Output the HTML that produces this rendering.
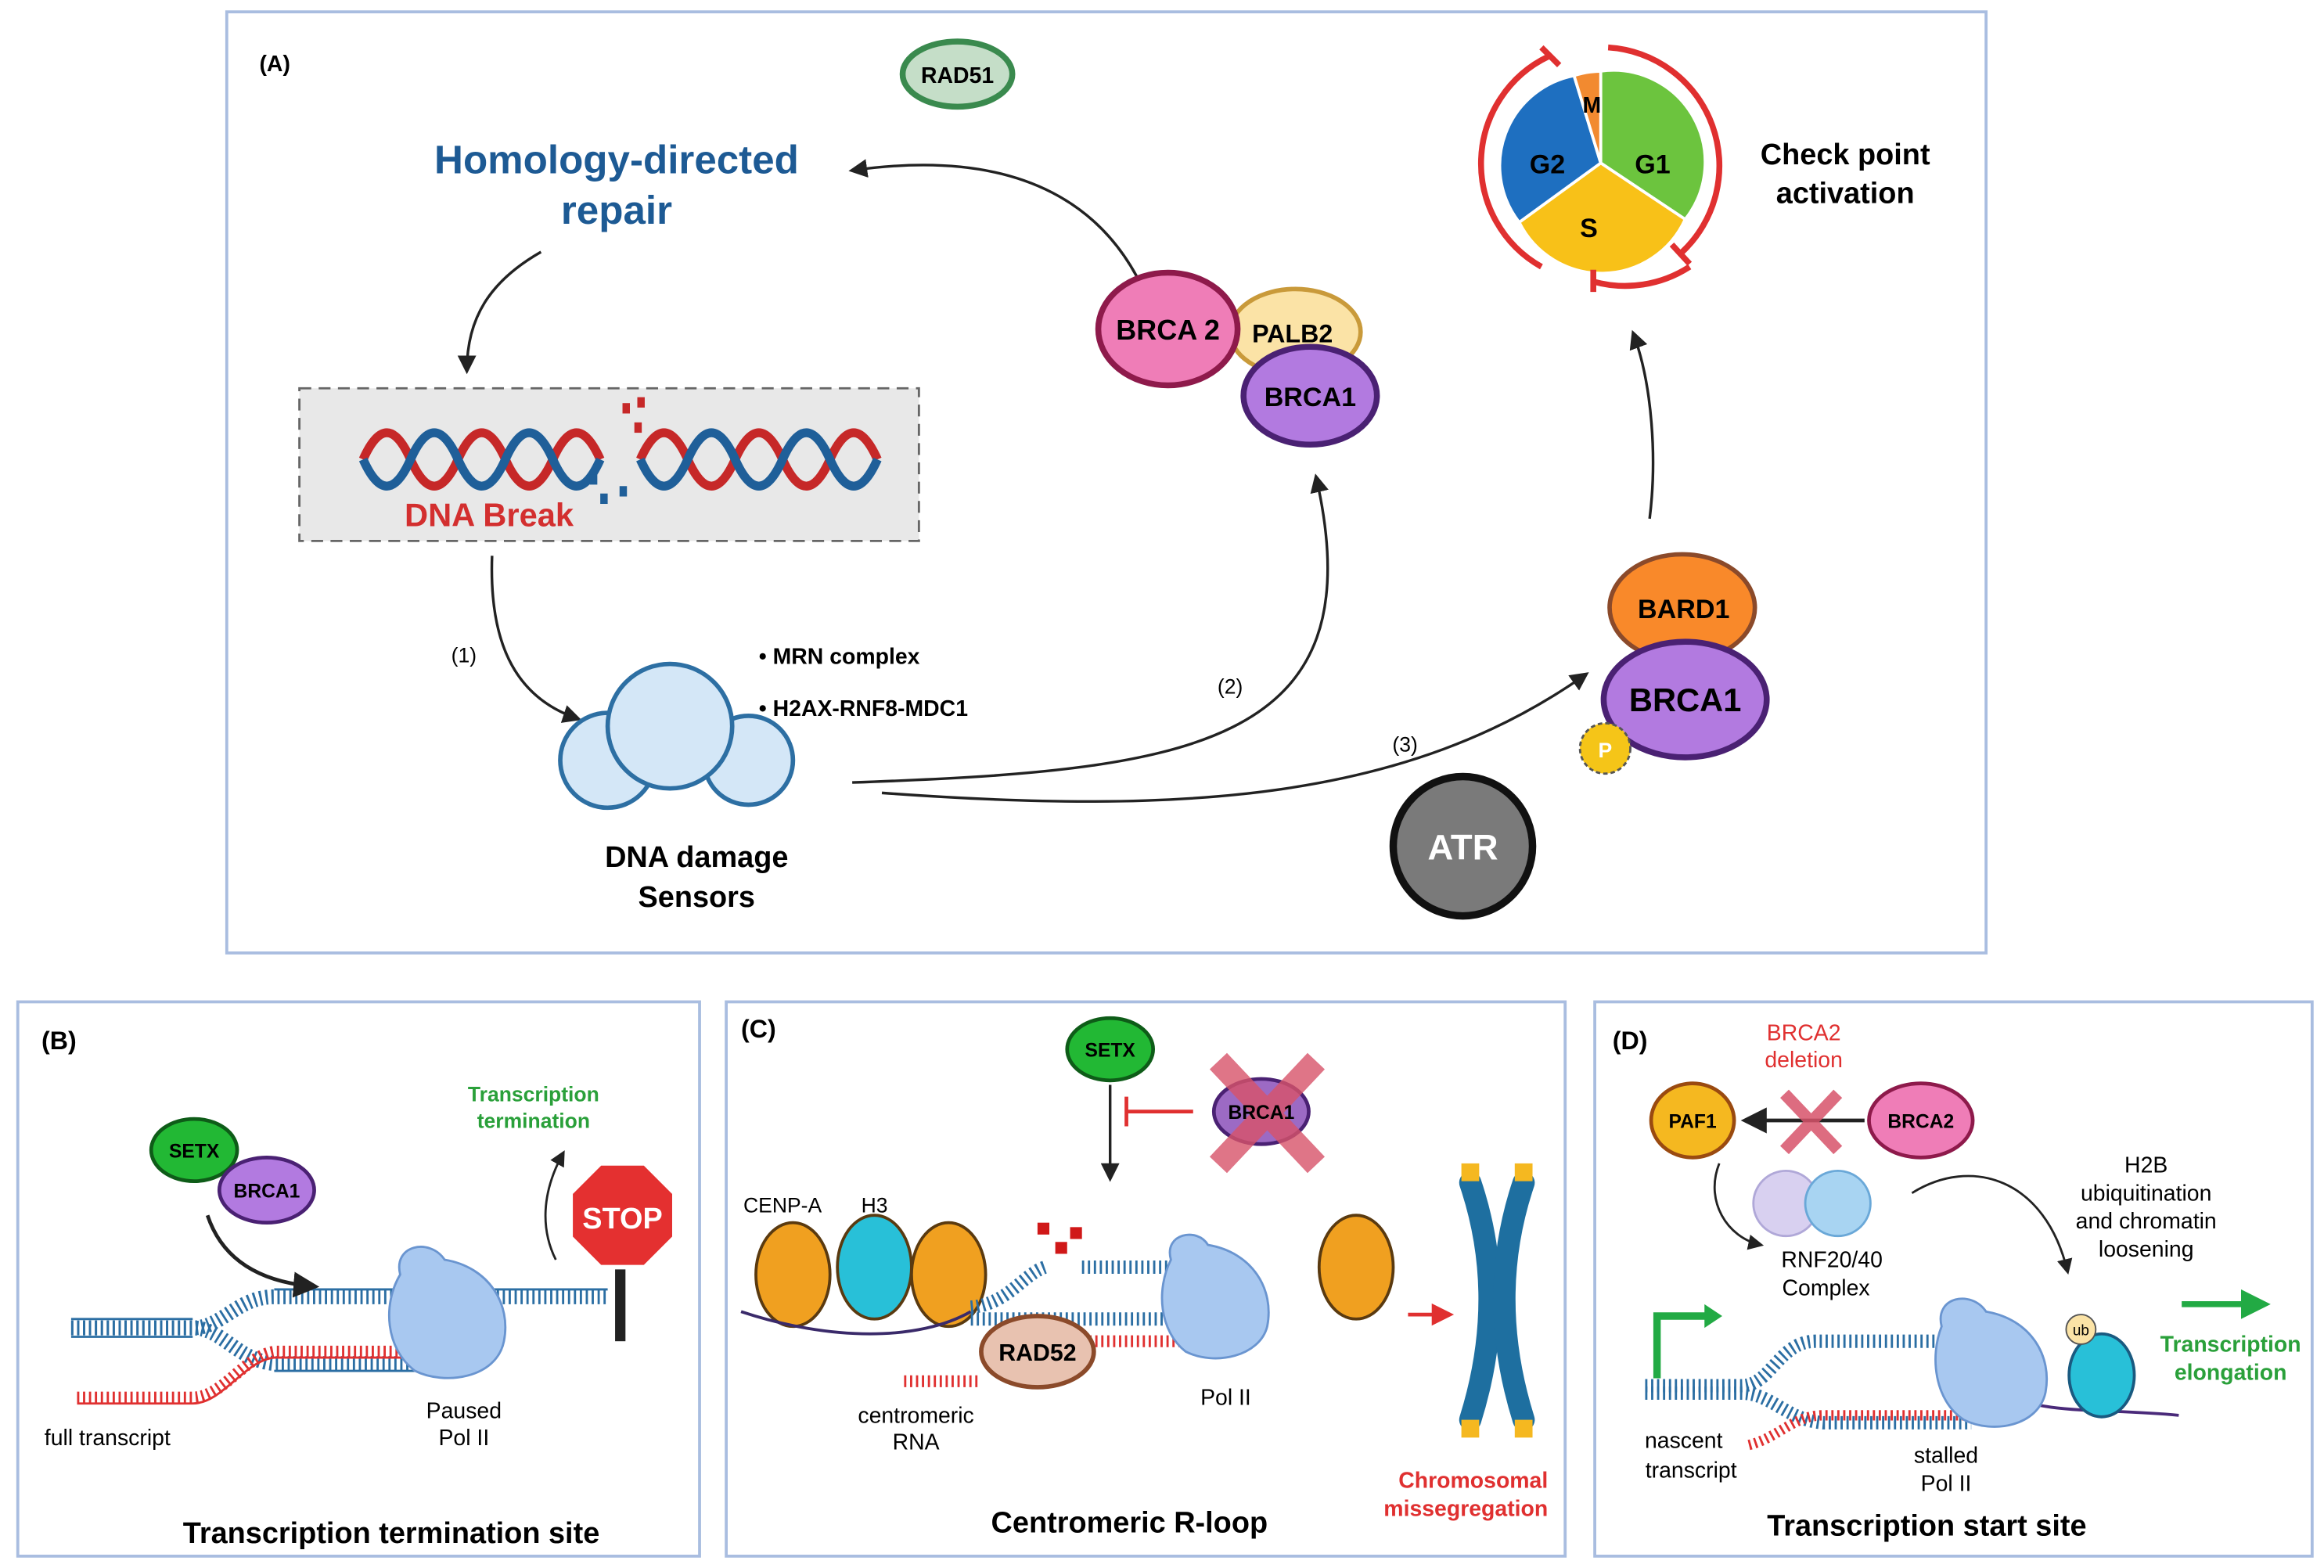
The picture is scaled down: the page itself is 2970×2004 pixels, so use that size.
<!DOCTYPE html>
<html><head><meta charset="utf-8"><style>
html,body{margin:0;padding:0;background:#fff}
svg{display:block}
text{font-family:"Liberation Sans",sans-serif}
.b{font-weight:bold}
</style></head><body>
<svg width="2970" height="2004" viewBox="0 0 1568 1058" preserveAspectRatio="none" xmlns="http://www.w3.org/2000/svg">
<defs>
<marker id="ah" viewBox="0 0 10 10" refX="8" refY="5" markerWidth="7" markerHeight="7" orient="auto"><path d="M0,0 L10,5 L0,10 z" fill="#222"/></marker>
<marker id="ahr" viewBox="0 0 10 10" refX="8" refY="5" markerWidth="6" markerHeight="6" orient="auto"><path d="M0,0 L10,5 L0,10 z" fill="#e03030"/></marker>
<marker id="ahg" viewBox="0 0 10 10" refX="8" refY="5" markerWidth="5" markerHeight="5" orient="auto"><path d="M0,0 L10,5 L0,10 z" fill="#22aa44"/></marker>
</defs>
<rect width="1568" height="1058" fill="#fff"/>
<g fill="none" stroke="#a9bde0" stroke-width="2">
<rect x="153" y="8" width="1187" height="635"/>
<rect x="12" y="676" width="460" height="374"/>
<rect x="490" y="676" width="566" height="374"/>
<rect x="1076" y="676" width="484" height="374"/>
</g>
<text x="175" y="48" font-size="15" class="b">(A)</text>
<text x="28" y="708" font-size="17" class="b">(B)</text>
<text x="500" y="700" font-size="17" class="b">(C)</text>
<text x="1088" y="708" font-size="17" class="b">(D)</text>

<ellipse cx="646" cy="50" rx="37" ry="22" fill="#c5dec8" stroke="#3a8a4e" stroke-width="4"/>
<text x="646" y="56" font-size="15" class="b" text-anchor="middle">RAD51</text>
<text x="416" y="117" font-size="27" class="b" fill="#1d5a94" text-anchor="middle">Homology-directed</text>
<text x="416" y="151" font-size="27" class="b" fill="#1d5a94" text-anchor="middle">repair</text>

<g fill="none" stroke="#222" stroke-width="1.8">
<path d="M785,235 C760,130 680,100 575,115" marker-end="url(#ah)"/>
<path d="M365,170 C330,190 315,215 315,250" marker-end="url(#ah)"/>
<path d="M332,375 C330,430 345,470 390,485" marker-end="url(#ah)"/>
<path d="M575,528 C800,520 930,505 888,322" marker-end="url(#ah)"/>
<path d="M595,535 C800,550 950,540 1070,455" marker-end="url(#ah)"/>
<path d="M1113,350 C1118,310 1115,260 1102,225" marker-end="url(#ah)"/>
</g>
<text x="313" y="447" font-size="14" text-anchor="middle">(1)</text>
<text x="830" y="468" font-size="14" text-anchor="middle">(2)</text>
<text x="948" y="507" font-size="14" text-anchor="middle">(3)</text>

<rect x="202" y="262" width="418" height="103" fill="#e8e8e8" stroke="#666" stroke-width="1.5" stroke-dasharray="8 5"/>
<g fill="none" stroke-width="6">
<path d="M245,310 Q261,274 277,310 T309,310 T341,310 T373,310 T405,310" stroke="#c62828"/>
<path d="M245,310 Q261,346 277,310 T309,310 T341,310 T373,310 T405,310" stroke="#1f5f99"/>
<path d="M432,310 Q448,274 464,310 T496,310 T528,310 T560,310 T592,310" stroke="#c62828"/>
<path d="M432,310 Q448,346 464,310 T496,310 T528,310 T560,310 T592,310" stroke="#1f5f99"/>
</g>
<g fill="#c62828"><rect x="420" y="272" width="5" height="7"/><rect x="430" y="268" width="5" height="7"/><rect x="428" y="285" width="5" height="7"/></g>
<g fill="#1f5f99"><rect x="398" y="320" width="5" height="7"/><rect x="405" y="333" width="5" height="7"/><rect x="418" y="328" width="5" height="7"/></g>
<text x="330" y="355" font-size="22" class="b" fill="#d32f2f" text-anchor="middle">DNA Break</text>

<g fill="#d4e7f7" stroke="#2d6fa3" stroke-width="3">
<circle cx="410" cy="513" r="32"/><circle cx="505" cy="513" r="30"/><circle cx="452" cy="490" r="42"/>
</g>
<text x="470" y="585" font-size="20" class="b" text-anchor="middle">DNA damage</text>
<text x="470" y="612" font-size="20" class="b" text-anchor="middle">Sensors</text>
<text x="512" y="448" font-size="15" class="b">• MRN complex</text>
<text x="512" y="483" font-size="15" class="b">• H2AX-RNF8-MDC1</text>

<ellipse cx="874" cy="224" rx="44" ry="29" fill="#fbe3a6" stroke="#c99a3a" stroke-width="3"/>
<ellipse cx="788" cy="222" rx="47" ry="38" fill="#ef7db7" stroke="#8e1a4b" stroke-width="4"/>
<ellipse cx="884" cy="267" rx="45" ry="33" fill="#b27ae0" stroke="#4a2173" stroke-width="4"/>
<text x="788" y="229" font-size="19" class="b" text-anchor="middle">BRCA 2</text>
<text x="872" y="231" font-size="17" class="b" text-anchor="middle">PALB2</text>
<text x="884" y="274" font-size="18" class="b" text-anchor="middle">BRCA1</text>

<ellipse cx="1135" cy="410" rx="49" ry="36" fill="#f9892a" stroke="#8b4a2a" stroke-width="3"/>
<ellipse cx="1137" cy="472" rx="55" ry="39" fill="#b27ae0" stroke="#4a2173" stroke-width="4"/>
<text x="1136" y="417" font-size="18" class="b" text-anchor="middle">BARD1</text>
<text x="1137" y="480" font-size="22" class="b" text-anchor="middle">BRCA1</text>
<circle cx="1083" cy="505" r="17" fill="#f5c518" stroke="#555" stroke-width="1.5" stroke-dasharray="3 2"/>
<text x="1083" y="511" font-size="14" class="b" fill="#fff" text-anchor="middle">P</text>
<circle cx="987" cy="571" r="47" fill="#7a7a7a" stroke="#111" stroke-width="5"/>
<text x="987" y="580" font-size="24" class="b" fill="#fff" text-anchor="middle">ATR</text>

<g stroke="#fff" stroke-width="2">
<path d="M1080,110 L1080,48 A62,62 0 0 1 1137,148 Z" fill="#6cc43e"/>
<path d="M1080,110 L1137,148 A62,62 0 0 1 1025,150 Z" fill="#f8c118"/>
<path d="M1080,110 L1025,150 A62,62 0 0 1 1062,51 Z" fill="#1e6fc0"/>
<path d="M1080,110 L1062,51 A62,62 0 0 1 1080,48 Z" fill="#f28a30"/>
</g>
<text x="1074" y="76" font-size="15" class="b" text-anchor="middle">M</text>
<text x="1115" y="117" font-size="18" class="b" text-anchor="middle">G1</text>
<text x="1044" y="117" font-size="18" class="b" text-anchor="middle">G2</text>
<text x="1072" y="160" font-size="18" class="b" text-anchor="middle">S</text>
<g fill="none" stroke="#e03030" stroke-width="4">
<path d="M1045,38 A80,80 0 0 0 1040,180"/>
<path d="M1085,32 A80,80 0 0 1 1135,170"/>
<path d="M1140,180 A80,80 0 0 1 1075,190"/>
<path d="M1040,32 L1052,44 M1128,165 L1140,178 M1075,182 L1075,197"/>
</g>
<text x="1245" y="111" font-size="20" class="b" text-anchor="middle">Check point</text>
<text x="1245" y="137" font-size="20" class="b" text-anchor="middle">activation</text>

<!-- B -->
<g fill="none">
<path d="M48,896 L130,896 C150,896 160,875 185,875 L410,875" stroke="#2b6ea3" stroke-width="10" stroke-dasharray="1.5 2.5"/>
<path d="M48,896 L130,896 C150,896 160,918 185,920 L290,920" stroke="#2b6ea3" stroke-width="10" stroke-dasharray="1.5 2.5"/>
<path d="M185,870 L410,870 M48,890 L130,890 M48,902 L130,902 M185,925 L290,925" stroke="#2b6ea3" stroke-width="1.5"/>
<path d="M52,943 L130,943 C150,943 165,915 185,912 L290,912" stroke="#e03030" stroke-width="8" stroke-dasharray="1.5 2.5"/>
<path d="M52,947 L130,947 C150,947 165,918 185,916 L290,916" stroke="#e03030" stroke-width="1.5"/>
</g>
<path d="M270,860 C265,840 290,835 300,850 C330,855 345,880 340,905 C335,930 300,935 280,925 C260,910 258,880 270,860 Z" fill="#a8c8f0" stroke="#6a95d0" stroke-width="1.5"/>
<rect x="415" y="855" width="7" height="50" fill="#222"/>
<polygon points="405,785 435,785 455,805 455,835 435,855 405,855 385,835 385,805" fill="#e43030" stroke="#fff" stroke-width="3"/>
<text x="420" y="829" font-size="20" class="b" fill="#fff" text-anchor="middle">STOP</text>
<path d="M375,850 C365,830 365,805 380,778" fill="none" stroke="#222" stroke-width="1.5" marker-end="url(#ah)"/>
<text x="360" y="743" font-size="14" class="b" fill="#2aa03a" text-anchor="middle">Transcription</text>
<text x="360" y="761" font-size="14" class="b" fill="#2aa03a" text-anchor="middle">termination</text>
<ellipse cx="131" cy="776" rx="29" ry="21" fill="#22b834" stroke="#0e5c18" stroke-width="2.5"/>
<text x="131" y="781" font-size="13" class="b" text-anchor="middle">SETX</text>
<ellipse cx="180" cy="803" rx="32" ry="22" fill="#b27ae0" stroke="#4a2173" stroke-width="2.5"/>
<text x="180" y="808" font-size="13" class="b" text-anchor="middle">BRCA1</text>
<path d="M140,820 C150,850 175,865 212,868" fill="none" stroke="#222" stroke-width="2.5" marker-end="url(#ah)"/>
<text x="30" y="975" font-size="15">full transcript</text>
<text x="313" y="957" font-size="15" text-anchor="middle">Paused</text>
<text x="313" y="975" font-size="15" text-anchor="middle">Pol II</text>
<text x="264" y="1041" font-size="20" class="b" text-anchor="middle">Transcription termination site</text>

<!-- C -->
<ellipse cx="749" cy="708" rx="29" ry="21" fill="#22b834" stroke="#0e5c18" stroke-width="2.5"/>
<text x="749" y="713" font-size="13" class="b" text-anchor="middle">SETX</text>
<ellipse cx="851" cy="750" rx="32" ry="22" fill="#9c6ac4" stroke="#4a2173" stroke-width="2.5"/>
<g stroke="#d8536a" stroke-width="16" opacity="0.8"><path d="M822,716 L888,786 M888,716 L822,786"/></g>
<text x="851" y="755" font-size="13" class="b" text-anchor="middle">BRCA1</text>
<path d="M749,732 L749,795" stroke="#222" stroke-width="1.8" marker-end="url(#ah)"/>
<path d="M805,750 L760,750 M760,740 L760,760" stroke="#e03030" stroke-width="2.5" fill="none"/>
<text x="528" y="818" font-size="14" text-anchor="middle">CENP-A</text>
<text x="590" y="818" font-size="14" text-anchor="middle">H3</text>
<g stroke="#5a3a10" stroke-width="2">
<ellipse cx="535" cy="860" rx="25" ry="35" fill="#f0a020"/>
<ellipse cx="590" cy="855" rx="25" ry="35" fill="#28c0d8"/>
<ellipse cx="640" cy="860" rx="25" ry="35" fill="#f0a020"/>
<ellipse cx="915" cy="855" rx="25" ry="35" fill="#f0a020"/>
</g>
<path d="M500,885 C560,905 620,905 655,885" fill="none" stroke="#3a2a6a" stroke-width="2"/>
<g fill="none">
<path d="M655,882 C680,880 690,860 705,855 M730,855 L800,855" stroke="#2b6ea3" stroke-width="9" stroke-dasharray="1.5 2.5"/>
<path d="M655,890 L800,890" stroke="#2b6ea3" stroke-width="9" stroke-dasharray="1.5 2.5"/>
<path d="M610,932 L660,932 M735,905 L800,905" stroke="#e03030" stroke-width="8" stroke-dasharray="1.5 2.5"/>
</g>
<g fill="#d01818"><rect x="700" y="825" width="8" height="8"/><rect x="712" y="838" width="8" height="8"/><rect x="722" y="828" width="8" height="8"/></g>
<path d="M790,850 C785,832 808,828 815,840 C845,845 860,870 855,895 C850,915 820,922 800,912 C782,898 780,870 790,850 Z" fill="#a8c8f0" stroke="#6a95d0" stroke-width="1.5"/>
<ellipse cx="700" cy="912" rx="38" ry="24" fill="#e8c2b0" stroke="#8b4a2a" stroke-width="3"/>
<text x="700" y="918" font-size="16" class="b" text-anchor="middle">RAD52</text>
<text x="618" y="960" font-size="15" text-anchor="middle">centromeric</text>
<text x="618" y="978" font-size="15" text-anchor="middle">RNA</text>
<text x="827" y="948" font-size="15" text-anchor="middle">Pol II</text>
<path d="M950,887 L978,887" stroke="#e03030" stroke-width="2.5" marker-end="url(#ahr)"/>
<g fill="none" stroke="#1e6fa0" stroke-width="15" stroke-linecap="round">
<path d="M992,798 Q1018,875 992,958"/>
<path d="M1028,798 Q1002,875 1028,958"/>
</g>
<g fill="#f5b820"><rect x="986" y="785" width="12" height="12"/><rect x="1022" y="785" width="12" height="12"/><rect x="986" y="958" width="12" height="12"/><rect x="1022" y="958" width="12" height="12"/></g>
<text x="994" y="1004" font-size="15" class="b" fill="#e03030" text-anchor="middle">Chromosomal</text>
<text x="989" y="1023" font-size="15" class="b" fill="#e03030" text-anchor="middle">missegregation</text>
<text x="762" y="1034" font-size="20" class="b" text-anchor="middle">Centromeric R-loop</text>

<!-- D -->
<text x="1217" y="702" font-size="15" fill="#e03030" text-anchor="middle">BRCA2</text>
<text x="1217" y="720" font-size="15" fill="#e03030" text-anchor="middle">deletion</text>
<ellipse cx="1142" cy="756" rx="28" ry="25" fill="#f5b820" stroke="#9a4a10" stroke-width="2.5"/>
<text x="1142" y="761" font-size="13" class="b" text-anchor="middle">PAF1</text>
<ellipse cx="1296" cy="756" rx="35" ry="25" fill="#ef7db7" stroke="#8e1a4b" stroke-width="2.5"/>
<text x="1296" y="761" font-size="13" class="b" text-anchor="middle">BRCA2</text>
<path d="M1258,756 L1178,756" stroke="#222" stroke-width="2.5" marker-end="url(#ah)"/>
<g stroke="#d8536a" stroke-width="8" opacity="0.85"><path d="M1204,738 L1240,776 M1240,738 L1204,776"/></g>
<circle cx="1205" cy="812" r="22" fill="#d8d0f0" stroke="#b0a8d8" stroke-width="1.5"/>
<circle cx="1240" cy="812" r="22" fill="#a8d4f2" stroke="#6aa8d8" stroke-width="1.5"/>
<path d="M1160,785 C1150,810 1165,835 1188,840" fill="none" stroke="#222" stroke-width="1.5" marker-end="url(#ah)"/>
<path d="M1290,805 C1330,780 1380,795 1395,858" fill="none" stroke="#222" stroke-width="1.5" marker-end="url(#ah)"/>
<text x="1236" y="855" font-size="15" text-anchor="middle">RNF20/40</text>
<text x="1232" y="874" font-size="15" text-anchor="middle">Complex</text>
<text x="1448" y="791" font-size="15" text-anchor="middle">H2B</text>
<text x="1448" y="810" font-size="15" text-anchor="middle">ubiquitination</text>
<text x="1448" y="829" font-size="15" text-anchor="middle">and chromatin</text>
<text x="1448" y="848" font-size="15" text-anchor="middle">loosening</text>
<path d="M1118,930 L1118,888 L1152,888" fill="none" stroke="#22aa44" stroke-width="5"/>
<polygon points="1150,880 1162,888 1150,896" fill="#22aa44"/>
<g fill="none">
<path d="M1110,935 L1175,935 C1195,935 1200,905 1225,905 L1330,905" stroke="#2b6ea3" stroke-width="9" stroke-dasharray="1.5 2.5"/>
<path d="M1110,940 L1175,940 C1195,940 1205,958 1230,960 L1330,960" stroke="#2b6ea3" stroke-width="9" stroke-dasharray="1.5 2.5"/>
<path d="M1180,975 C1200,970 1210,955 1230,955 L1330,955" stroke="#e03030" stroke-width="7" stroke-dasharray="1.5 2.5"/>
<path d="M1350,940 C1380,955 1420,950 1470,955" stroke="#4a2a7a" stroke-width="2"/>
</g>
<path d="M1310,895 C1305,875 1330,870 1340,885 C1370,890 1385,915 1380,940 C1375,962 1345,968 1325,958 C1305,945 1302,915 1310,895 Z" fill="#a8c8f0" stroke="#6a95d0" stroke-width="1.5"/>
<ellipse cx="1418" cy="928" rx="22" ry="28" fill="#28c0d8" stroke="#1a5a80" stroke-width="2"/>
<circle cx="1404" cy="897" r="10" fill="#fbe3a6" stroke="#555" stroke-width="1"/>
<text x="1404" y="901" font-size="10" text-anchor="middle">ub</text>
<path d="M1472,880 L1528,880" stroke="#22aa44" stroke-width="4" marker-end="url(#ahg)"/>
<text x="1505" y="912" font-size="15" class="b" fill="#2aa03a" text-anchor="middle">Transcription</text>
<text x="1505" y="931" font-size="15" class="b" fill="#2aa03a" text-anchor="middle">elongation</text>
<text x="1136" y="977" font-size="15" text-anchor="middle">nascent</text>
<text x="1141" y="997" font-size="15" text-anchor="middle">transcript</text>
<text x="1313" y="987" font-size="15" text-anchor="middle">stalled</text>
<text x="1313" y="1006" font-size="15" text-anchor="middle">Pol II</text>
<text x="1300" y="1036" font-size="20" class="b" text-anchor="middle">Transcription start site</text>
</svg>
</body></html>
